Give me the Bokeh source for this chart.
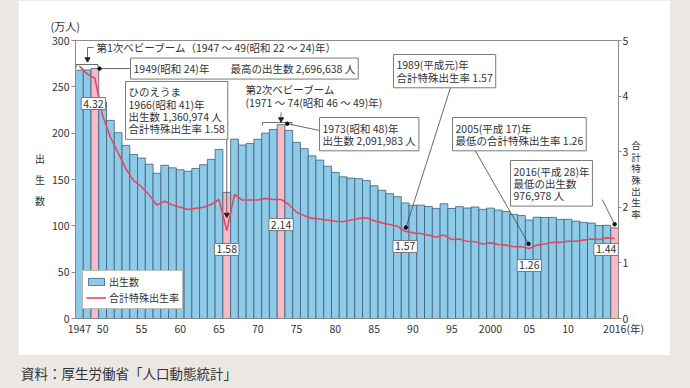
from bokeh.plotting import figure
from bokeh.models import (Range1d, LinearAxis, FixedTicker, Label, Legend, LegendItem,
                          ColumnDataSource, Div, Spacer, Title)
from bokeh.layouts import column, row
from bokeh.embed import file_html
from bokeh.resources import INLINE

# ---------------- data ----------------
years = list(range(1947, 2017))
births = [267.9, 268.2, 269.7, 233.8, 213.8, 200.5, 186.8, 177.0, 173.1, 166.5,
          156.7, 165.3, 162.6, 160.6, 158.9, 161.9, 166.0, 171.7, 182.4, 136.1,
          193.6, 187.2, 188.9, 193.4, 200.1, 203.9, 209.2, 203.0, 190.1, 183.3,
          175.5, 170.9, 164.3, 157.7, 152.9, 151.5, 150.9, 149.0, 143.2, 138.3,
          134.7, 131.4, 124.7, 122.2, 122.3, 120.9, 118.8, 123.8, 118.7, 120.7,
          119.2, 120.3, 117.8, 119.1, 117.1, 115.4, 112.4, 111.1, 106.3, 109.3,
          109.0, 109.1, 107.0, 107.1, 105.1, 103.7, 103.0, 100.4, 100.6, 97.7]
tfr = [4.54, 4.40, 4.32, 3.65, 3.26, 2.98, 2.69, 2.48, 2.37, 2.22,
       2.04, 2.11, 2.04, 2.00, 1.96, 1.98, 2.00, 2.05, 2.14, 1.58,
       2.23, 2.13, 2.13, 2.13, 2.16, 2.14, 2.14, 2.05, 1.91, 1.85,
       1.80, 1.79, 1.77, 1.75, 1.74, 1.77, 1.80, 1.81, 1.76, 1.72,
       1.69, 1.66, 1.57, 1.54, 1.53, 1.50, 1.46, 1.50, 1.42, 1.43,
       1.39, 1.38, 1.34, 1.36, 1.33, 1.32, 1.29, 1.29, 1.26, 1.32,
       1.34, 1.37, 1.37, 1.39, 1.39, 1.41, 1.43, 1.42, 1.45, 1.44]
highlight_years = [1949, 1966, 1973, 2016]
value_label_years = [1949, 1966, 1973, 1989, 2005, 2016]
x_ticks = [1947, 1950, 1955, 1960, 1965, 1970, 1975, 1980, 1985, 1990, 1995,
           2000, 2005, 2010, 2016]
x_tick_labels = ["1947", "50", "55", "60", "65", "70", "75", "80", "85", "90", "95",
                 "2000", "05", "10", "2016"]
x_unit = "(年)"
y_unit = "(万人)"
y_title = "出生数"
y2_title = "合計特殊出生率"
left_ticks = [0, 50, 100, 150, 200, 250, 300]
right_ticks = [0, 1, 2, 3, 4, 5]
source_note = "資料：厚生労働省「人口動態統計」"

FONT = "Noto Sans CJK JP"
BLUE = "#8ecbe8"
PINK = "#f7b9c5"
EDGE = "#3d5f78"
RED = "#e8475e"
TXT = "#333333"
AX = "#8a8a8a"
GRAY_BG = "#ebe8e4"

Y_MAX = 300
TFR_MAX = 5
scale = Y_MAX / TFR_MAX


def idx(y):
    return years.index(y)


p = figure(width=652, height=355, output_backend="svg", toolbar_location=None,
           title=None,
           x_range=Range1d(years[0] - 0.5, years[-1] + 0.5),
           y_range=Range1d(0, Y_MAX),
           min_border_left=57, min_border_right=52, min_border_top=40, min_border_bottom=37)
p.extra_y_ranges = {"tfr": Range1d(0, TFR_MAX)}
p.border_fill_color = "white"
p.background_fill_color = "white"
p.outline_line_color = AX
p.outline_line_width = 1
p.xgrid.visible = False
p.ygrid.visible = False

# unit above the left axis (a small spacer title keeps it off the frame)
p.add_layout(Title(text="\u3000", text_font_size="4px", standoff=0, text_color="white"),
             "above")
p.add_layout(Title(text=y_unit, align="left", offset=-25, standoff=0, text_font=FONT,
                   text_font_size="11px", text_font_style="normal", text_color=TXT),
             "above")

# ---- bars ----
colors = [PINK if y in highlight_years else BLUE for y in years]
src = ColumnDataSource(dict(x=years, top=births, color=colors))
bars = p.vbar(x="x", top="top", width=1, source=src, fill_color="color",
              line_color=EDGE, line_width=0.8)

# ---- tfr line ----
line = p.line(years, tfr, y_range_name="tfr", line_color=RED, line_width=1.6)

# ---- axes ----
PAD = "\u3000\u2002\u2009"
xa = p.xaxis[0]
xa.ticker = FixedTicker(ticks=x_ticks)
overrides = {t: l for t, l in zip(x_ticks, x_tick_labels)}
overrides[x_ticks[-1]] = PAD + x_tick_labels[-1] + x_unit
xa.major_label_overrides = overrides
xa.major_tick_out = 0
xa.major_tick_in = 0
xa.minor_tick_out = 0
xa.axis_line_color = AX
xa.major_label_standoff = 2
xa.major_label_text_font = FONT
xa.major_label_text_font_size = "10.5px"
xa.major_label_text_color = TXT

ya = p.yaxis[0]
ya.ticker = FixedTicker(ticks=left_ticks)
ya.major_tick_out = 4
ya.major_tick_in = 0
ya.minor_tick_out = 0
ya.axis_line_color = AX
ya.major_tick_line_color = AX
ya.major_label_standoff = 2
ya.major_label_text_font = FONT
ya.major_label_text_font_size = "10.5px"
ya.major_label_text_color = TXT
ya.axis_label = "\n".join(y_title)
ya.axis_label_orientation = "horizontal"
ya.axis_label_text_font = FONT
ya.axis_label_text_font_size = "10px"
ya.axis_label_text_font_style = "normal"
ya.axis_label_text_color = TXT
ya.axis_label_text_line_height = 1.4
ya.axis_label_standoff = 4

ra = LinearAxis(y_range_name="tfr", ticker=FixedTicker(ticks=right_ticks))
ra.major_tick_out = 3
ra.major_tick_in = 0
ra.minor_tick_out = 0
ra.axis_line_color = AX
ra.major_tick_line_color = AX
ra.major_label_standoff = 1
ra.major_label_text_font = FONT
ra.major_label_text_font_size = "10.5px"
ra.major_label_text_color = TXT
ra.axis_label = "\n".join(y2_title)
ra.axis_label_orientation = "horizontal"
ra.axis_label_text_font = FONT
ra.axis_label_text_font_size = "9.5px"
ra.axis_label_text_font_style = "normal"
ra.axis_label_text_color = TXT
ra.axis_label_text_line_height = 0.82
ra.axis_label_standoff = 0
p.add_layout(ra, "right")

# ---- leader lines / brackets ----
LC = "#444444"
b49 = births[idx(1949)]
b73 = births[idx(1973)]
b16 = births[idx(2016)]
t89 = tfr[idx(1989)] * scale
t05 = tfr[idx(2005)] * scale
seg_x0 = [1948.05, 1948.05, 1946.6, 1946.6, 1949.4, 1949.6, 1966.0,
          1973.0, 1970.6, 1970.6, 1974.4, 1973.8, 1994.97, 1997.8, 2014.4]
seg_y0 = [292.4, 292.4, 274.1, 274.1, 274.1, b49, 201.8,
          222.3, 211.5, 211.5, 211.5, b73 + 1, 252.5, 184.5, 128.4]
seg_x1 = [1948.85, 1948.05, 1949.4, 1946.6, 1949.4, 1953.6, 1966.0,
          1973.0, 1974.4, 1970.6, 1974.4, 1977.96, 1989.1, 2004.9, 2016.0]
seg_y1 = [292.4, 281.0, 274.1, 271.0, 271.0, b49, 114.0,
          216.5, 211.5, 208.4, 208.4, 202.9, t89 + 4, t05 + 5, b16 + 4]
p.segment(seg_x0, seg_y0, seg_x1, seg_y1, line_color=LC, line_width=0.8)
p.scatter([1948.05, 1966.0, 1973.0], [279.8, 112.0, 215.0], marker="inverted_triangle",
          size=5, color="#222222")
p.scatter([1949.6, 1973.8, 1989.1, 2004.9, 2016.0],
          [b49, b73 + 1, t89 + 4, t05 + 5, b16 + 4],
          marker="circle", size=3.5, color="#111111")


# ---- text helpers ----
def box_label(x, y, text, align="left", baseline="top", size="10.5px", pad=3, box=True):
    lab = Label(x=x, y=y, text=text, text_font=FONT, text_font_size=size,
                text_color=TXT, text_align=align, text_baseline=baseline,
                text_line_height=0.82, padding=pad)
    if box:
        lab.background_fill_color = "white"
        lab.border_line_color = "#7a7a7a"
        lab.border_line_width = 1
    p.add_layout(lab)
    return lab


box_label(1949.21, 292.4, "第1次ベビーブーム（1947 ～ 49(昭和 22 ～ 24)年）",
          baseline="middle", box=False, pad=0)
box_label(1953.59, b49, "1949(昭和 24)年　　最高の出生数 2,696,638 人", baseline="middle")
box_label(1952.95, 255.8, "ひのえうま\n1966(昭和 41)年\n出生数 1,360,974 人\n合計特殊出生率 1.58")
box_label(1968.42, 254.7, "第2次ベビーブーム\n(1971 ～ 74(昭和 46 ～ 49)年)", box=False, pad=0)
box_label(1977.96, 216.9, "1973(昭和 48)年\n出生数 2,091,983 人")
box_label(1987.49, 284.9, "1989(平成元)年\n合計特殊出生率 1.57")
box_label(1995.1, 216.9, "2005(平成 17)年\n最低の合計特殊出生率 1.26")
box_label(2002.58, 170.5, "2016(平成 28)年\n最低の出生数\n976,978 人")

# small value boxes
val_x = [1948.8, 1966, 1973, 1989, 2005, 2014.9]
val_y = [232.0, 74.5, 101.4, 77.7, 57.2, 74.5]
for yr, vx, vy in zip(value_label_years, val_x, val_y):
    box_label(vx, vy, f"{tfr[idx(yr)]:.2f}", align="center", baseline="middle", pad=2)

# ---- legend ----
legend = Legend(items=[LegendItem(label="出生数", renderers=[bars], index=0),
                       LegendItem(label="合計特殊出生率", renderers=[line])],
                location=(7, 9), border_line_color="#7a7a7a", background_fill_alpha=1,
                padding=3, spacing=1, margin=0, glyph_width=20, glyph_height=9,
                label_standoff=3, label_height=12, label_text_font=FONT,
                label_text_font_size="10px", label_text_color=TXT)
p.add_layout(legend)

note = Div(text=('<div style="padding:6px 0 0 16px;font-family:\'Noto Sans CJK JP\';'
                 'font-size:13.5px;line-height:15px;color:#333;white-space:nowrap">'
                 + source_note + '</div>'), width=688, height=31)

layout = column(row(Spacer(width=18, height=355), p, Spacer(width=18, height=355)),
                note, styles={"background-color": GRAY_BG})

open("out.html", "w").write(file_html(layout, INLINE))
